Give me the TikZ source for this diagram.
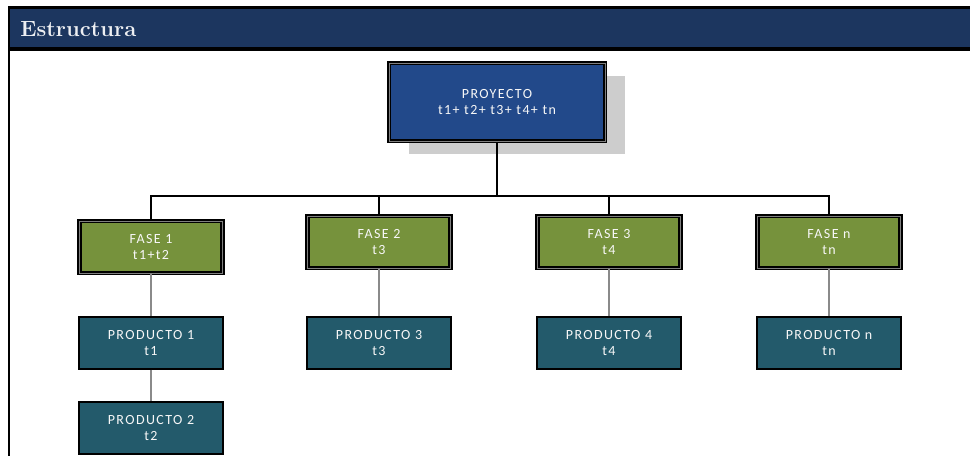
\documentclass[tikz,border=0pt]{standalone}
\usepackage{fontspec}
\usetikzlibrary{shadows}
\newfontfamily\boxfont[LetterSpace=10]{Carlito}
\definecolor{headnavy}{HTML}{1C365F}
\definecolor{projblue}{HTML}{22498A}
\definecolor{faseolive}{HTML}{76923C}
\definecolor{prodteal}{HTML}{235A6B}
\definecolor{shadowgray}{HTML}{CDCDCD}
\definecolor{linegray}{HTML}{8A8A8A}
\begin{document}
\begin{tikzpicture}[x=0.75pt,y=-0.75pt,
  boxbase/.style={rectangle, inner sep=0pt, align=center, text=white!94!gray,
    font=\boxfont\fontsize{10.5}{12.5}\selectfont,
    minimum width=107.5pt, minimum height=39pt},
  projbox/.style={boxbase, fill=projblue, draw=black, line width=1.4pt,
    double=gray, double distance=0.5pt,
    minimum width=162pt, minimum height=58.5pt,
    general shadow={fill=shadowgray, shadow xshift=15pt, shadow yshift=-9.75pt}},
  fasebox/.style={boxbase, fill=faseolive, draw=black, line width=1.4pt,
    double=gray, double distance=0.5pt},
  prodbox/.style={boxbase, fill=prodteal, draw=black, line width=1.3pt},
  treeline/.style={draw=black, line width=0.9pt},
  dropline/.style={draw=linegray, line width=1.4pt}]

\useasboundingbox (0,0) rectangle (970,456);

% frame and title band
\draw[line width=1.5pt] (9,7) -- (9,456);
\fill[black] (8,6) rectangle (970,51);
\fill[headnavy] (10,9) rectangle (970,47);
\node[anchor=base west, inner sep=0pt, text=white!92!headnavy,
  font=\bfseries\fontsize{16.5}{16.5}\selectfont] (title) at (20,37) {Estructura};

% project
\node[projbox] (proj) at (497,102) {PROYECTO\\t1+ t2+ t3+ t4+ tn};

% phases
\node[fasebox] (fase1) at (151,247) {FASE 1\\t1+t2};
\node[fasebox] (fase2) at (379,242) {FASE 2\\t3};
\node[fasebox] (fase3) at (609,242) {FASE 3\\t4};
\node[fasebox] (fasen) at (829,242) {FASE n\\tn};

% products
\node[prodbox] (prod1) at (151,343) {PRODUCTO 1\\t1};
\node[prodbox] (prod2) at (151,428) {PRODUCTO 2\\t2};
\node[prodbox] (prod3) at (379,343) {PRODUCTO 3\\t3};
\node[prodbox] (prod4) at (609,343) {PRODUCTO 4\\t4};
\node[prodbox] (prodn) at (829,343) {PRODUCTO n\\tn};

% tree connectors
\coordinate (bus) at (497,196);
\draw[treeline] (proj.south) -- (bus);
\draw[treeline] (fase1.north) |- (bus) -| (fasen.north);
\draw[treeline] (fase2.north) |- (bus);
\draw[treeline] (fase3.north) |- (bus);

\draw[dropline] (fase1.south) -- (prod1.north);
\draw[dropline] (prod1.south) -- (prod2.north);
\draw[dropline] (fase2.south) -- (prod3.north);
\draw[dropline] (fase3.south) -- (prod4.north);
\draw[dropline] (fasen.south) -- (prodn.north);
\end{tikzpicture}
\end{document}
